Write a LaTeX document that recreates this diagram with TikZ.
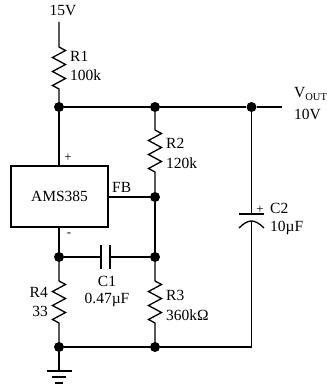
\documentclass[tikz,border=0pt]{standalone}
\usepackage{fontspec}
\setmainfont{Liberation Serif}
\usetikzlibrary{decorations.pathmorphing}
\tikzset{
  wire/.style={line width=1.3pt},
  res/.style={decoration={zigzag, amplitude=6.5pt, segment length=14pt}},
  dot/.style={circle, fill=black, inner sep=0pt, minimum size=10pt},
  lbl/.style={inner sep=0pt, font=\fontsize{15.5}{17}\selectfont},
  sgn/.style={inner sep=0pt, font=\fontsize{13}{14}\selectfont},
  chip/.style={draw, line width=1.3pt, minimum width=97pt, minimum height=61pt, inner sep=0pt, font=\fontsize{15.5}{17}\selectfont}
}
\begin{document}
\begin{tikzpicture}[x=1pt, y=-1pt]
  \useasboundingbox (0,0) rectangle (326,387);

  % junctions
  \node[dot] (n1) at (59,107) {};
  \node[dot] (n2) at (155,107) {};
  \node[dot] (n3) at (251.5,107) {};
  \node[dot] (fb) at (155,197) {};
  \node[dot] (n4) at (59,257) {};
  \node[dot] (n5) at (155,257) {};
  \node[dot] (n6) at (59,347) {};
  \node[dot] (n7) at (155,347) {};
  \node[chip] (ams) at (59.5,196.5) {AMS385};

  \coordinate (vin) at (59,22);
  \coordinate (vout) at (282,107);
  \coordinate (corner) at (251.5,347);
  \coordinate (gnd) at (59,371);

  % rails
  \draw[wire] (n1) -- (n2);
  \draw[wire] (n2) -- (n3);
  \draw[wire] (n3) -- (vout);
  \draw[wire] (n6) -- (n7);
  \draw[wire] (n7) -- (corner);
  \draw[wire] (ams.east |- fb) -- (fb);

  % resistors
  \draw[wire] (vin) -- (59,47) decorate[res] {-- (59,89)} -- (n1);
  \draw[wire] (n2) -- (155,130) decorate[res] {-- (155,172)} -- (fb);
  \draw[wire] (n5) -- (155,281) decorate[res] {-- (155,323)} -- (n7);
  \draw[wire] (n4) -- (59,281) decorate[res] {-- (59,323)} -- (n6);
  \draw[wire] (fb) -- (n5);
  \draw[wire] (n1) -- (n1 |- ams.north);
  \draw[wire] (n4 |- ams.south) -- (n4);

  % C1
  \coordinate (c1a) at (101,257);
  \coordinate (c1b) at (110,257);
  \draw[wire] (n4) -- (c1a);
  \draw[wire] (c1b) -- (n5);
  \draw[wire] (101,245) -- (101,269);
  \draw[wire] (110,245) -- (110,269);

  % C2
  \coordinate (c2a) at (251.5,214);
  \coordinate (c2b) at (251.5,221);
  \draw[wire] (n3) -- (c2a);
  \draw[wire] (c2b) -- (corner);
  \draw[wire] (239,214) -- (264,214);
  \draw[wire] (239,228) .. controls (244,223) and (248,221) .. (c2b) .. controls (255,221) and (259,223) .. (264,228);

  % ground
  \draw[wire] (n6) -- (gnd);
  \draw[wire] (47,371) -- (72,371);
  \draw[wire] (52,377) -- (66,377);
  \draw[wire] (55,383) -- (63,383);

  % labels
  \node[lbl] (t15) at (63,11) {15V};
  \node[lbl, anchor=west] (tr1) at (70,56) {R1};
  \node[lbl, anchor=west] (tr1v) at (70,75) {100k};
  \node[lbl, anchor=west] (tr2) at (166,143) {R2};
  \node[lbl, anchor=west] (tr2v) at (166,163) {120k};
  \node[lbl, anchor=west] (tfb) at (112,187) {FB};
  \node[sgn] (tplus) at (68,158) {+};
  \node[sgn] (tminus) at (69,235) {-};
  \node[lbl] (tc1) at (107,281) {C1};
  \node[lbl] (tc1v) at (107,300) {0.47µF};
  \node[lbl, anchor=east] (tr4) at (48,292) {R4};
  \node[lbl, anchor=east] (tr4v) at (48,311) {33};
  \node[lbl, anchor=west] (tr3) at (166,295) {R3};
  \node[lbl, anchor=west] (tr3v) at (166,315) {360kΩ};
  \node[lbl, anchor=west] (tc2) at (270,208) {C2};
  \node[lbl, anchor=west] (tc2v) at (270,228) {10µF};
  \node[sgn] (tcp) at (260,210) {+};
  \node[lbl, anchor=west] (tv) at (294,94) {V\raisebox{-2.5pt}{\fontsize{10.5}{11}\selectfont OUT}};
  \node[lbl, anchor=west] (tvv) at (294,114) {10V};
\end{tikzpicture}
\end{document}
